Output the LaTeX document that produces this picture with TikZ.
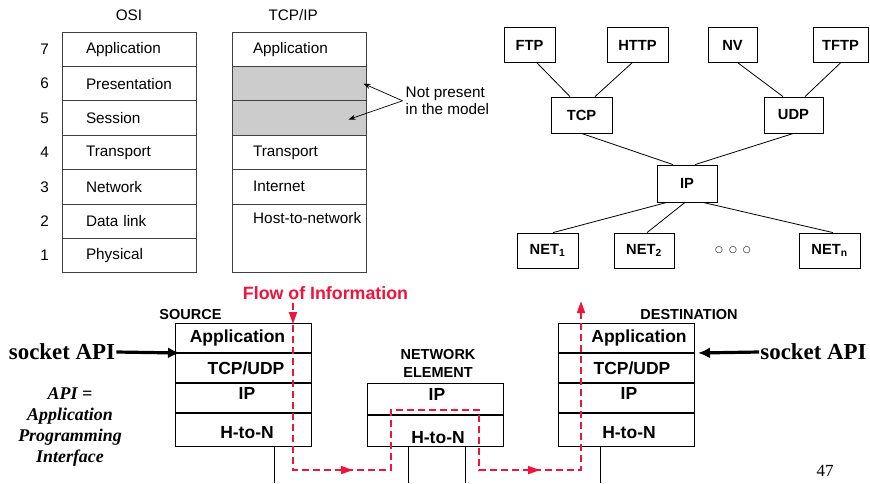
\documentclass[tikz,border=0pt]{standalone}
\usepackage{fontspec}
\setmainfont{Liberation Sans}
\newfontfamily\timesfont{Liberation Serif}
\newfontfamily\symfont{DejaVu Sans}
\usetikzlibrary{arrows.meta,positioning,decorations.markings}
\definecolor{flowred}{HTML}{F0143C}
\definecolor{absentgray}{HTML}{CCCCCC}
\definecolor{scanline}{HTML}{404040}

\begin{document}
\begin{tikzpicture}[
  x=1pt, y=-1pt,
  node distance=0pt,
  osirow/.style={rectangle, draw=scanline, line width=0.9pt, outer sep=0pt,
    minimum width=134pt, minimum height=34.4pt, text width=86pt, inner xsep=24pt,
    align=left, font=\fontsize{15.3}{18}\selectfont},
  tcpiprow/.style={osirow, inner xsep=21pt, text width=92.5pt},
  num/.style={inner sep=0pt, font=\fontsize{15.3}{18}\selectfont},
  colhead/.style={font=\fontsize{15.3}{18}\selectfont},
  proto/.style={rectangle, draw, line width=0.8pt, minimum width=60pt, minimum height=35pt,
    inner sep=2pt, font=\fontsize{14.7}{17}\selectfont\bfseries},
  link/.style={line width=0.8pt},
  pointer/.style={line width=0.7pt, -{Stealth[length=7pt,width=5pt]}},
  stackrow/.style={rectangle, draw, line width=0.8pt, outer sep=0pt, minimum width=136pt,
    minimum height=30pt, inner sep=0pt, font=\fontsize{17.5}{20}\selectfont\bfseries},
  divider/.style={line width=2pt},
  hostname/.style={font=\fontsize{14.5}{18}\selectfont\bfseries, align=center},
  wire/.style={line width=0.8pt},
  sockapi/.style={inner sep=1pt, font=\timesfont\fontsize{22.9}{26}\selectfont\bfseries},
  apiarrow/.style={line width=3.2pt, -{Latex[length=12pt,width=11pt]}},
  flow/.style={draw=flowred, line width=1.8pt, dash pattern=on 7pt off 4pt,
    -{Triangle[length=12pt,width=8pt]}, postaction={decorate},
    decoration={markings,
      mark=at position 21pt with {\arrow{Triangle[length=12pt,width=8pt]}},
      mark=at position 227pt with {\arrow{Triangle[length=12pt,width=8pt]}},
      mark=at position 534pt with {\arrow{Triangle[length=12pt,width=8pt]}}}},
]
  \useasboundingbox (0,0) rectangle (870,483);

  % OSI reference model
  \node[osirow] (osi7) at (129,49.2) {Application};
  \node[osirow, below=of osi7] (osi6) {Presentation};
  \node[osirow, below=of osi6] (osi5) {Session};
  \node[osirow, below=of osi5] (osi4) {Transport};
  \node[osirow, below=of osi4] (osi3) {Network};
  \node[osirow, below=of osi3] (osi2) {Data link};
  \node[osirow, below=of osi2] (osi1) {Physical};
  \node[colhead, above=8pt of osi7] (osihead) {OSI};

  \node[num, left=13pt of osi7] (n7) {7};
  \node[num, left=13pt of osi6] (n6) {6};
  \node[num, left=13pt of osi5] (n5) {5};
  \node[num, left=13pt of osi4] (n4) {4};
  \node[num, left=13pt of osi3] (n3) {3};
  \node[num, left=13pt of osi2] (n2) {2};
  \node[num, left=13pt of osi1] (n1) {1};

  % TCP/IP model
  \node[tcpiprow, right=36pt of osi7] (tcpip7) {Application};
  \node[tcpiprow, below=of tcpip7, fill=absentgray] (tcpip6) {};
  \node[tcpiprow, below=of tcpip6, fill=absentgray] (tcpip5) {};
  \node[tcpiprow, below=of tcpip5] (tcpip4) {Transport};
  \node[tcpiprow, below=of tcpip4] (tcpip3) {Internet};
  \node[tcpiprow, below=of tcpip3, minimum height=68.8pt] (tcpip1) {};
  \node[num, anchor=west] (hostnet) at ([xshift=21pt,yshift=3pt]tcpip1.west |- osi2) {Host-to-network};
  \node[colhead, above=8pt of tcpip7, xshift=-6pt] (tcpiphead) {TCP/IP};

  \node[colhead, align=left, right=36pt of tcpip6.south east, inner sep=3pt,
    font=\fontsize{15.3}{17}\selectfont] (absent) {Not present\\in the model};
  \draw[pointer] (absent.west) -- ([xshift=-3pt]tcpip6.east);
  \draw[pointer] (absent.west) -- ([xshift=-18pt,yshift=-1.5pt]tcpip5.east);

  % protocol graph
  \node[proto, minimum width=51pt] (ftp) at (529.5,45) {FTP};
  \node[proto, minimum width=61pt] (http) at (637.5,45) {HTTP};
  \node[proto, minimum width=49pt] (nv) at (732.5,45) {NV};
  \node[proto, minimum width=55pt] (tftp) at (840.5,45) {TFTP};
  \node[proto, minimum width=61pt, minimum height=36pt] (tcp) at (581.5,115) {TCP};
  \node[proto, minimum width=59pt, minimum height=36pt] (udp) at (793.5,115) {UDP};
  \node[proto, minimum height=37pt] (ip) at (687,183.5) {IP};
  \node[proto, minimum width=61pt] (net1) at (547.5,250.5) {NET\textsubscript{1}};
  \node[proto] (net2) at (644,250.5) {NET\textsubscript{2}};
  \node[font=\symfont\fontsize{9}{10}\selectfont] (netdots) at (733,250) {○\hspace{6pt}○\hspace{6pt}○};
  \node[proto, minimum width=61pt] (netn) at (829.5,250.5) {NET\textsubscript{n}};

  \draw[link] ([xshift=7.5pt]ftp.south) -- ([xshift=-11.5pt]tcp.north);
  \draw[link] ([xshift=-5.5pt]http.south) -- ([xshift=13.5pt]tcp.north);
  \draw[link] ([xshift=5.5pt]nv.south) -- ([xshift=-10.5pt]udp.north);
  \draw[link] (tftp.south) -- ([xshift=11.5pt]udp.north);
  \draw[link] (tcp.south) -- ([xshift=-14pt]ip.north);
  \draw[link] (udp.south) -- ([xshift=8pt]ip.north);
  \draw[link] ([xshift=-20pt]ip.south) -- ([xshift=5.5pt]net1.north);
  \draw[link] ([xshift=-2pt]ip.south) -- ([xshift=3pt]net2.north);
  \draw[link] ([xshift=16pt]ip.south) -- ([xshift=3.5pt]netn.north);

  % source host
  \node[stackrow] (srcapp) at (243,338) {Application\hspace*{11pt}};
  \node[stackrow, below=of srcapp] (srctrans) {\hspace*{6pt}TCP/UDP};
  \node[stackrow, below=of srctrans, text depth=10pt] (srcip) {\hspace*{8pt}IP};
  \node[stackrow, below=of srcip, minimum height=33pt, text height=17.5pt] (srchton) {\hspace*{8pt}H-to-N};
  \node[hostname] (srcname) at (190.5,315) {SOURCE};
  \draw[divider] (srcapp.south west) -- (srcapp.south east);
  \draw[divider] (srctrans.south west) -- (srctrans.south east);
  \draw[divider] (srcip.south west) -- (srcip.south east);
  \draw[wire] ([xshift=31pt]srchton.south) -- ++(0,37);

  % network element
  \node[stackrow, minimum height=32pt, text depth=10pt] (neip) at (435,399) {\hspace*{4pt}IP};
  \node[stackrow, below=of neip, minimum height=31pt, text height=25.5pt] (nehton) {\hspace*{6pt}H-to-N};
  \node[hostname] (nename) at (438,363) {NETWORK\\ELEMENT};
  \draw[divider] (neip.south west) -- (neip.south east);
  \draw[wire] ([xshift=-27pt]nehton.south) -- ++(0,37);
  \draw[wire] ([xshift=30pt]nehton.south) -- ++(0,37);

  % destination host
  \node[stackrow] (dstapp) at (626,338) {\hspace*{26pt}Application};
  \node[stackrow, below=of dstapp] (dsttrans) {\hspace*{12pt}TCP/UDP};
  \node[stackrow, below=of dsttrans, text depth=10pt] (dstip) {\hspace*{6pt}IP};
  \node[stackrow, below=of dstip, minimum height=33pt, text height=17.5pt] (dsthton) {\hspace*{6pt}H-to-N};
  \node[hostname] (dstname) at (689,315) {DESTINATION};
  \draw[divider] (dstapp.south west) -- (dstapp.south east);
  \draw[divider] (dsttrans.south west) -- (dsttrans.south east);
  \draw[divider] (dstip.south west) -- (dstip.south east);
  \draw[wire] ([xshift=-26pt]dsthton.south) -- ++(0,37);

  % socket API
  \node[sockapi] (sockl) at (62,352) {socket API};
  \node[sockapi] (sockr) at (813.5,352) {socket API};
  \draw[apiarrow] (sockl.east) -- ([xshift=5pt]srcapp.south west);
  \draw[apiarrow] (sockr.west) -- ([xshift=4pt]dstapp.south east);
  \node[align=center, font=\timesfont\fontsize{17.9}{21.3}\selectfont\bfseries\itshape]
    (apinote) at (70,427) {API =\\Application\\Programming\\Interface};

  % flow of information
  \node[font=\fontsize{17.8}{20}\selectfont\bfseries, text=flowred] (flowlabel) at (325.5,293) {Flow of Information};
  \coordinate (flowin) at ([xshift=-32.5pt]flowlabel.south);
  \draw[flow] (flowin) -- ++(0,167) -- ++(98,0) -- ++(0,-60) -- ++(88,0) -- ++(0,60) -- ++(102,0) -- ++(0,-169);

  \node[font=\timesfont\fontsize{17}{20}\selectfont] (pageno) at (825,471) {47};
\end{tikzpicture}
\end{document}
